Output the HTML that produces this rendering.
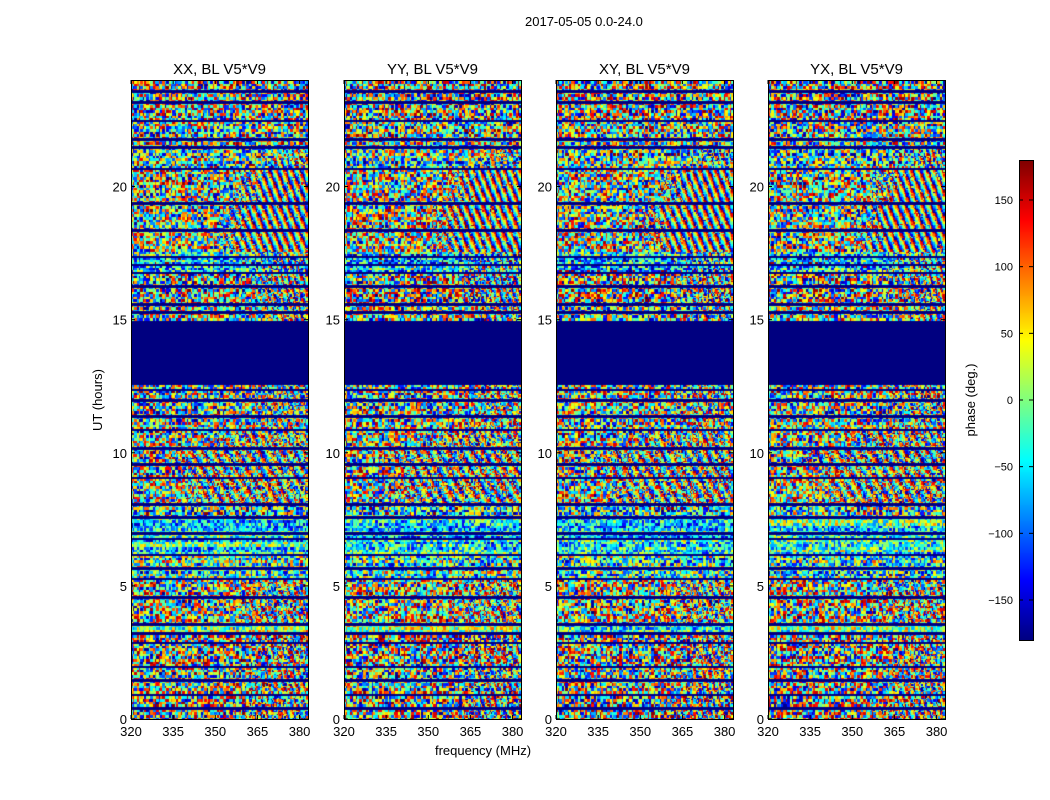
<!DOCTYPE html>
<html><head><meta charset="utf-8">
<style>
body{margin:0;background:#fff;font-family:"Liberation Sans",sans-serif;}
#root{position:relative;width:1050px;height:800px;overflow:hidden;background:#fff;}
.t{position:absolute;font-size:13px;color:#000;white-space:nowrap;}
canvas{position:absolute;}
</style></head><body>
<div id="root">
<div class="t" style="left:525px;top:14px;">2017-05-05 0.0-24.0</div>
<svg id="axes" width="1050" height="800" style="position:absolute;left:0;top:0"></svg>
</div>
<script>
// ---- data ----
const panelTitles = ["XX, BL V5*V9","YY, BL V5*V9","XY, BL V5*V9","YX, BL V5*V9"];
const xTicks = [320,335,350,365,380];
const yTicks = [0,5,10,15,20];
const cbTicks = [-150,-100,-50,0,50,100,150];
// bands: start hour, end hour, bias phase (deg), noise amount (0..1), fringe start MHz, fringe rate, fringe strength
const bandStart = [0,   1.0, 2.0, 3.3, 3.6, 5.3, 6.2, 7.6, 8.1, 9.6, 10.2,10.9,12.6,15.0,15.6,16.8,17.6,19.4,20.7,21.5,22.5,23.2];
const bandEnd   = [1.0, 2.0, 3.3, 3.6, 5.3, 6.2, 7.6, 8.1, 9.6, 10.2,10.9,12.6,15.0,15.6,16.8,17.6,19.4,20.7,21.5,22.5,23.2,24.0];
const bandBias  = [0,   10,  0,   -10, 20,  -20, -40, -40, 10,  -20, 0,   0,   -180,0,   0,   -60, 0,   0,   -30, 0,   0,   0];
const bandNoise = [1,   0.9, 1,   0.5, 0.9, 0.7, 0.5, 0.8, 0.9, 0.9, 0.9, 0.9, 0,   0.9, 1,   0.6, 0.9, 0.9, 0.8, 0.9, 1,   1];
const bandFringeStart = [355,360,360,999,355,999,999,999,335,330,345,360,999,365,360,360,350,355,365,999,999,999];
const bandFringeRate  = [150,150,120,0,  120,0,  0,  0,  90, 90, 120,140,0,  150,150,150,120,130,150,0,  0,  0];
const bandFringeAmt   = [0.4,0.4,0.3,0,  0.35,0, 0,  0,  0.5,0.5,0.4,0.3,0,  0.5,0.5,0.5,0.9,0.9,0.5,0,  0,  0];
const flagLines = [0.45,0.95,1.5,2.0,2.9,3.25,3.6,4.6,5.3,5.7,6.2,6.8,7.0,7.6,8.1,9.1,9.6,10.2,10.9,11.4,12.0,12.4,15.3,15.6,16.3,16.8,17.1,17.4,18.4,19.4,20.7,21.5,21.8,22.5,23.2,23.6];
const panelLeft = [131,344,556,768];
const pw = 177, py0 = 80, py1 = 719;
const fMin = 320, fMax = 383, tMin = 0, tMax = 24;

function xS(p,f){return panelLeft[p]+(f-fMin)/(fMax-fMin)*pw;}
function yS(t){return py1-(t-tMin)/(tMax-tMin)*(py1-py0);}
function jet(v){v=Math.max(0,Math.min(1,v));const c=x=>Math.round(255*Math.max(0,Math.min(1,x)));
 return [c(1.5-Math.abs(4*v-3)),c(1.5-Math.abs(4*v-2)),c(1.5-Math.abs(4*v-1))];}
function hash(a,b,c){let h=(a*374761393+b*668265263+c*2147483647)|0;h=(h^(h>>>13))*1274126177|0;h=h^(h>>>16);return ((h>>>0)%10000)/10000;}
function wrap(p){return ((p+180)%360+360)%360-180;}

const root=document.getElementById('root');
const svg=document.getElementById('axes');
const NS='http://www.w3.org/2000/svg';
function txt(x,y,s,anchor,size,rot){const e=document.createElementNS(NS,'text');e.setAttribute('x',x);e.setAttribute('y',y);e.setAttribute('font-size',size||13);e.setAttribute('font-family','Liberation Sans, sans-serif');e.setAttribute('text-anchor',anchor||'middle');if(rot)e.setAttribute('transform','rotate(-90 '+x+' '+y+')');e.textContent=s;svg.appendChild(e);return e;}
function line(x1,y1,x2,y2){const e=document.createElementNS(NS,'line');e.setAttribute('x1',x1);e.setAttribute('y1',y1);e.setAttribute('x2',x2);e.setAttribute('y2',y2);e.setAttribute('stroke','#000');svg.appendChild(e);return e;}

const nCols=177, nRows=480;
for(let p=0;p<4;p++){
 const cv=document.createElement('canvas');
 cv.width=pw;cv.height=py1-py0;
 cv.style.left=panelLeft[p]+'px';cv.style.top=py0+'px';
 
 
 root.insertBefore(cv,svg);
 const ctx=cv.getContext('2d');
 for(let r=0;r<nRows;r++){
  const t0=tMin+r*(tMax-tMin)/nRows, t1=t0+(tMax-tMin)/nRows, tc=(t0+t1)/2;
  let b=0;for(let i=0;i<bandStart.length;i++){if(tc>=bandStart[i]&&tc<bandEnd[i]){b=i;break;}}
  let flagged=bandNoise[b]===0;
  for(const fl of flagLines){if(Math.abs(tc-fl)<0.03)flagged=true;}
  const rowH=hash(Math.floor(r/2),p,7);
  for(let c=0;c<nCols;c++){
   const f0=fMin+c*(fMax-fMin)/nCols, f1=f0+(fMax-fMin)/nCols, fc=(f0+f1)/2;
   let ph;
   if(flagged){ph=-180;}
   else{
    const n=(hash(Math.floor(r/2),c>>1,p+11)*360-180)*bandNoise[b];
    ph=wrap(bandBias[b]+n+(rowH-0.5)*80);
    if(fc>bandFringeStart[b]){
     const w=Math.min(1,(fc-bandFringeStart[b])/12)*bandFringeAmt[b];
     const fr=wrap(bandFringeRate[b]*(fc-320)+r*25+p*30);
     if(hash(r,c,p+29)<w)ph=wrap(fr+(hash(r,c,p+3)-0.5)*50);
    }
   }
   const col=jet((ph+180)/360);
   ctx.fillStyle='rgb('+col.join(',')+')';
   const x0=(f0-fMin)/(fMax-fMin)*pw, x1=(f1-fMin)/(fMax-fMin)*pw;
   const y0=(py1-py0)-(t1-tMin)/(tMax-tMin)*(py1-py0), y1=(py1-py0)-(t0-tMin)/(tMax-tMin)*(py1-py0);
   ctx.fillRect(Math.floor(x0),Math.floor(y0),Math.ceil(x1-x0)+1,Math.ceil(y1-y0)+1);
  }
 }
 const fr=document.createElementNS(NS,'rect');
 fr.setAttribute('x',panelLeft[p]+0.5);fr.setAttribute('y',py0+0.5);fr.setAttribute('width',pw);fr.setAttribute('height',py1-py0);
 fr.setAttribute('fill','none');fr.setAttribute('stroke','#000');
 
 
 svg.appendChild(fr);
 const tt=txt(panelLeft[p]+pw/2,74,panelTitles[p],'middle',15);
 
 
 for(const v of xTicks){const x=xS(p,v);line(x,py1,x,py1-4);line(x,py0,x,py0+4);
  const e=txt(x,736,String(v),'middle',13);
  
  }
 for(const v of yTicks){const y=yS(v);line(panelLeft[p],y,panelLeft[p]+4,y);line(panelLeft[p]+pw,y,panelLeft[p]+pw-4,y);
  const e=txt(panelLeft[p]-4,y+5,String(v),'end',13);
  
  }
}
const yl=txt(102,400,'UT (hours)','middle',13,true);


const xl=txt(483,755,'frequency (MHz)','middle',13);



const cbX=1019,cbW=14,cbY0=160,cbY1=640,cbMin=-180,cbMax=180;
function cbY(v){return cbY1-(v-cbMin)/(cbMax-cbMin)*(cbY1-cbY0);}
const cb=document.createElement('canvas');cb.width=cbW;cb.height=cbY1-cbY0;
cb.style.left=cbX+'px';cb.style.top=cbY0+'px';


root.insertBefore(cb,svg);
const cctx=cb.getContext('2d');
for(let i=0;i<cbY1-cbY0;i++){const c=jet(1-i/(cbY1-cbY0));cctx.fillStyle='rgb('+c.join(',')+')';cctx.fillRect(0,i,cbW,1);}
const cfr=document.createElementNS(NS,'rect');cfr.setAttribute('x',cbX+0.5);cfr.setAttribute('y',cbY0+0.5);cfr.setAttribute('width',cbW);cfr.setAttribute('height',cbY1-cbY0);cfr.setAttribute('fill','none');cfr.setAttribute('stroke','#000');svg.appendChild(cfr);
for(const v of cbTicks){const y=cbY(v);line(cbX,y,cbX+4,y);line(cbX+cbW,y,cbX+cbW-4,y);
 const e=txt(1013,y+4,(v<0?'\u2212'+(-v):String(v)),'end',11);
 
 }
const cl=txt(975,400,'phase (deg.)','middle',13,true);


</script>
</body></html>
